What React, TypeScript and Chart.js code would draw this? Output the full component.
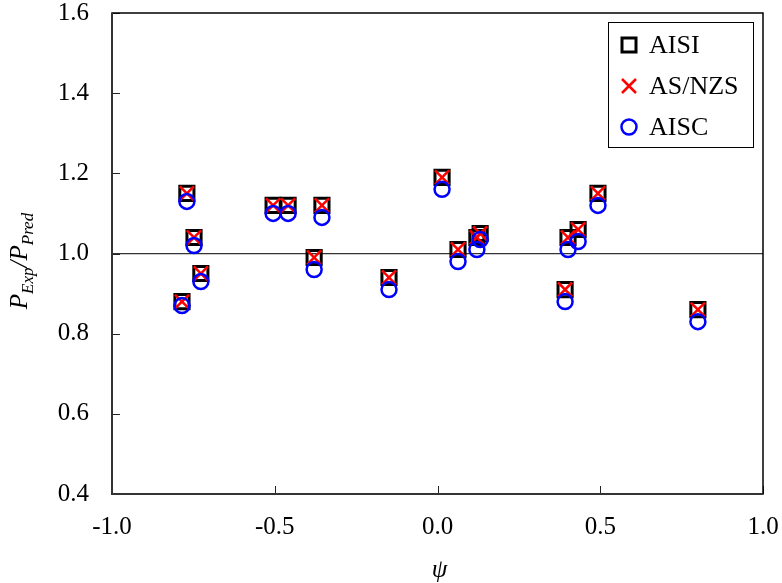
import React, { useEffect, useRef } from "react";
import { Chart, registerables } from "chart.js";

Chart.register(...registerables);

const psi = [-0.785, -0.77, -0.748, -0.727, -0.505, -0.459, -0.379, -0.355, -0.149, 0.014, 0.063, 0.121, 0.131, 0.392, 0.401, 0.432, 0.493, 0.8];
const aisi = [0.88, 1.15, 1.04, 0.95, 1.12, 1.12, 0.99, 1.12, 0.94, 1.19, 1.01, 1.04, 1.05, 0.91, 1.04, 1.06, 1.15, 0.86];
const asnzs = [0.88, 1.15, 1.04, 0.95, 1.12, 1.12, 0.99, 1.12, 0.94, 1.19, 1.01, 1.04, 1.05, 0.91, 1.04, 1.06, 1.15, 0.86];
const aisc = [0.87, 1.13, 1.02, 0.93, 1.1, 1.1, 0.96, 1.09, 0.91, 1.16, 0.98, 1.01, 1.035, 0.88, 1.01, 1.03, 1.12, 0.83];
const seriesNames = ["AISI", "AS/NZS", "AISC"];
const xTicks = [-1.0, -0.5, 0.0, 0.5, 1.0];
const yTicks = [0.4, 0.6, 0.8, 1.0, 1.2, 1.4, 1.6];

const FONT = "'Liberation Serif'";

function pts(ys: number[]) {
  return psi.map((x, i) => ({ x, y: ys[i] }));
}

function drawMarker(ctx: CanvasRenderingContext2D, kind: number, x: number, y: number) {
  ctx.save();
  if (kind === 0) {
    ctx.strokeStyle = "#000";
    ctx.lineWidth = 3;
    ctx.strokeRect(x - 7, y - 7, 14, 14);
  } else if (kind === 1) {
    ctx.strokeStyle = "#ff0000";
    ctx.lineWidth = 2.5;
    ctx.beginPath();
    ctx.moveTo(x - 7, y - 7);
    ctx.lineTo(x + 7, y + 7);
    ctx.moveTo(x + 7, y - 7);
    ctx.lineTo(x - 7, y + 7);
    ctx.stroke();
  } else {
    ctx.strokeStyle = "#0000ff";
    ctx.lineWidth = 2.5;
    ctx.beginPath();
    ctx.arc(x, y, 7.5, 0, Math.PI * 2);
    ctx.stroke();
  }
  ctx.restore();
}

const decorPlugin = {
  id: "decor",
  afterDraw(chart: any) {
    const ctx: CanvasRenderingContext2D = chart.ctx;
    const { left, right, top, bottom } = chart.chartArea;
    const xs = chart.scales.x;
    const ys = chart.scales.y;
    ctx.save();
    // inside tick marks
    ctx.strokeStyle = "#222";
    ctx.lineWidth = 1;
    ctx.beginPath();
    xTicks.forEach((v) => {
      const px = Math.round(xs.getPixelForValue(v)) + 0.5;
      ctx.moveTo(px, bottom);
      ctx.lineTo(px, bottom - 8);
    });
    yTicks.forEach((v) => {
      const py = Math.round(ys.getPixelForValue(v)) + 0.5;
      ctx.moveTo(left, py);
      ctx.lineTo(left + 8, py);
    });
    ctx.stroke();
    // frame
    ctx.strokeStyle = "#000";
    ctx.lineWidth = 1.5;
    ctx.strokeRect(left, top, right - left, bottom - top);
    ctx.strokeStyle = "#333";
    ctx.lineWidth = 2;
    ctx.beginPath();
    ctx.moveTo(left, top);
    ctx.lineTo(left, bottom);
    ctx.lineTo(right, bottom);
    ctx.stroke();

    // legend
    const lx = right - 155;
    const ly = top + 9;
    const lw = 145;
    const lh = 125;
    ctx.fillStyle = "#fff";
    ctx.fillRect(lx, ly, lw, lh);
    ctx.strokeStyle = "#000";
    ctx.lineWidth = 1;
    ctx.strokeRect(lx + 0.5, ly + 0.5, lw, lh);
    ctx.font = `26px ${FONT}`;
    ctx.fillStyle = "#000";
    ctx.textBaseline = "middle";
    ctx.textAlign = "left";
    seriesNames.forEach((name, i) => {
      const cy = ly + 23 + i * 41;
      drawMarker(ctx, i, lx + 21, cy);
      ctx.fillText(name, lx + 41, cy + 1);
    });

    // y title: P_Exp / P_Pred
    ctx.save();
    ctx.translate(27, 261);
    ctx.rotate(-Math.PI / 2);
    const segs = [
      { t: "P", f: `italic 25px ${FONT}`, dy: 0 },
      { t: "Exp", f: `italic 17px ${FONT}`, dy: 6 },
      { t: "/", f: `italic 25px ${FONT}`, dy: 0 },
      { t: "P", f: `italic 25px ${FONT}`, dy: 0 },
      { t: "Pred", f: `italic 17px ${FONT}`, dy: 6 },
    ];
    let total = 0;
    segs.forEach((s) => {
      ctx.font = s.f;
      total += ctx.measureText(s.t).width;
    });
    let cx = -total / 2;
    ctx.textBaseline = "alphabetic";
    ctx.fillStyle = "#000";
    segs.forEach((s) => {
      ctx.font = s.f;
      ctx.fillText(s.t, cx, s.dy);
      cx += ctx.measureText(s.t).width;
    });
    ctx.restore();

    // x title
    ctx.font = `italic 25px ${FONT}`;
    ctx.textAlign = "center";
    ctx.textBaseline = "alphabetic";
    ctx.fillText("ψ", (left + right) / 2 + 2, 577);
    ctx.restore();
  },
};

export default function App() {
  const ref = useRef<HTMLCanvasElement | null>(null);
  useEffect(() => {
    if (!ref.current) return;
    const chart = new Chart(ref.current, {
      type: "scatter",
      data: {
        datasets: [
          {
            label: seriesNames[0],
            data: pts(aisi),
            pointStyle: "rect",
            pointRadius: 10,
            borderColor: "#000",
            backgroundColor: "rgba(0,0,0,0)",
            borderWidth: 3,
            order: 2,
          },
          {
            label: seriesNames[1],
            data: pts(asnzs),
            pointStyle: "crossRot",
            pointRadius: 10,
            borderColor: "#ff0000",
            backgroundColor: "rgba(0,0,0,0)",
            borderWidth: 2.5,
            order: 1,
          },
          {
            label: seriesNames[2],
            data: pts(aisc),
            pointStyle: "circle",
            pointRadius: 7.5,
            borderColor: "#0000ff",
            backgroundColor: "rgba(0,0,0,0)",
            borderWidth: 2.5,
            order: 0,
          },
        ],
      },
      options: {
        responsive: false,
        animation: false,
        layout: { padding: { left: 0, top: 13, right: 19, bottom: 0 } },
        plugins: { legend: { display: false }, tooltip: { enabled: false } },
        scales: {
          x: {
            type: "linear",
            min: -1,
            max: 1,
            afterBuildTicks: (s: any) => {
              s.ticks = xTicks.map((v) => ({ value: v }));
            },
            afterFit: (s: any) => {
              s.height = 89;
              s.paddingLeft = 0;
              s.paddingRight = 0;
              s.paddingTop = 0;
              s.paddingBottom = 0;
            },
            ticks: {
              font: { family: FONT, size: 25 },
              color: "#000",
              padding: 18,
              maxRotation: 0,
              callback: (v: any) => Number(v).toFixed(1),
            },
            grid: { display: false, drawTicks: false },
            border: { display: false },
          },
          y: {
            type: "linear",
            min: 0.4,
            max: 1.6,
            afterBuildTicks: (s: any) => {
              s.ticks = yTicks.map((v) => ({ value: v }));
            },
            afterFit: (s: any) => {
              s.width = 112;
              s.paddingLeft = 0;
              s.paddingRight = 0;
              s.paddingTop = 0;
              s.paddingBottom = 0;
            },
            ticks: {
              font: { family: FONT, size: 25 },
              color: "#000",
              padding: 23,
              callback: (v: any) => Number(v).toFixed(1),
            },
            grid: {
              drawTicks: false,
              lineWidth: 1.2,
              color: (c: any) => (c.tick && Math.abs(c.tick.value - 1.0) < 1e-9 ? "#333" : "rgba(0,0,0,0)"),
            },
            border: { display: false },
          },
        },
      },
      plugins: [decorPlugin],
    });
    return () => chart.destroy();
  }, []);
  return (
    <div style={{ position: "fixed", left: 0, top: 0, width: 782, height: 583, background: "#fff" }}>
      <canvas ref={ref} width={782} height={583} />
    </div>
  );
}
